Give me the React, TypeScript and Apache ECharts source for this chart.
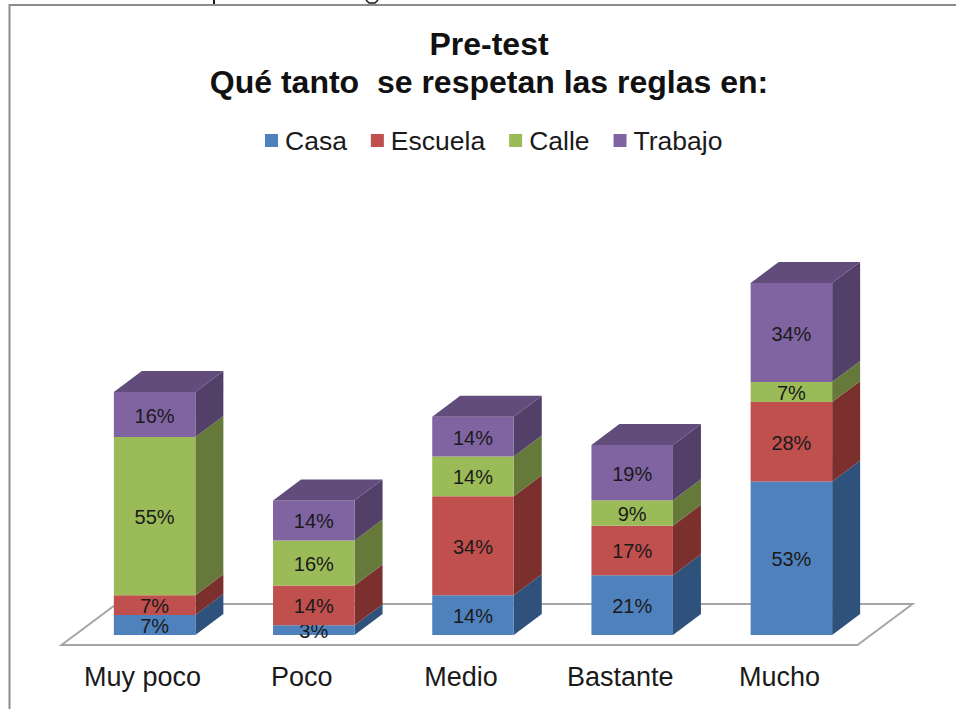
import React, { useEffect, useRef } from "react";
import * as echarts from "echarts";

const categories = ["Muy poco", "Poco", "Medio", "Bastante", "Mucho"];
const casa = [6.9, 3.4, 13.8, 20.7, 53.2];
const escuela = [6.9, 13.8, 34.3, 17.2, 27.6];
const calle = [54.8, 15.6, 13.8, 8.8, 6.9];
const trabajo = [15.6, 13.8, 13.8, 19.2, 34.3];
const seriesNames = ["Casa", "Escuela", "Calle", "Trabajo"];
const seriesValues = [casa, escuela, calle, trabajo];
const frontColors = ["#4F81BD", "#C0504D", "#9BBB59", "#8064A2"];
const sideColors = ["#2F527C", "#7B302E", "#64793A", "#534069"];
const topColors = ["#3A659A", "#9A3E3B", "#7D9848", "#614C7C"];

const FONT = '"Liberation Sans", Arial, sans-serif';
const INK = "#1a1a1a";
const DEPTH_X = 28;
const DEPTH_Y = 21;
const PLANE_X = 12;
const PLANE_Y = 10;
const BAR_RATIO = 0.512;

function barItem(seriesIndex: number, isTop: boolean) {
  return (_params: any, api: any) => {
    const idx = api.value(0);
    const low = api.coord([idx, api.value(1)]);
    const high = api.coord([idx, api.value(2)]);
    const width = api.size([1, 0])[0] * BAR_RATIO;
    const x0 = low[0] - width / 2 + PLANE_X;
    const x1 = x0 + width;
    const y0 = low[1] - PLANE_Y;
    const y1 = high[1] - PLANE_Y;
    const children: any[] = [
      {
        type: "polygon",
        shape: { points: [[x1, y0], [x1 + DEPTH_X, y0 - DEPTH_Y], [x1 + DEPTH_X, y1 - DEPTH_Y], [x1, y1]] },
        style: { fill: sideColors[seriesIndex] },
      },
      {
        type: "rect",
        shape: { x: x0, y: y1, width, height: y0 - y1 },
        style: { fill: frontColors[seriesIndex] },
      },
    ];
    if (isTop) {
      children.push({
        type: "polygon",
        shape: { points: [[x0, y1], [x0 + DEPTH_X, y1 - DEPTH_Y], [x1 + DEPTH_X, y1 - DEPTH_Y], [x1, y1]] },
        style: { fill: topColors[seriesIndex] },
      });
    }
    children.push({
      type: "text",
      z2: 10,
      style: {
        x: (x0 + x1) / 2,
        y: (y0 + y1) / 2 + 1,
        text: `${Math.round(api.value(3))}%`,
        fill: INK,
        font: `20px ${FONT}`,
        align: "center",
        verticalAlign: "middle",
      },
    });
    return { type: "group", children };
  };
}

function floorItem(params: any) {
  const c = params.coordSys;
  const bottom = c.y + c.height;
  const shiftX = -1.5;
  const backX = 55;
  const backY = 41;
  return {
    type: "polygon",
    shape: {
      points: [
        [c.x + shiftX, bottom],
        [c.x + c.width + shiftX, bottom],
        [c.x + c.width + shiftX + backX, bottom - backY],
        [c.x + shiftX + backX, bottom - backY],
      ],
    },
    style: { fill: "#ffffff", stroke: "#a6a6a6", lineWidth: 2 },
  };
}

export default function App() {
  const ref = useRef<HTMLDivElement>(null);
  useEffect(() => {
    const chart = echarts.init(ref.current!, undefined, { renderer: "svg" });
    const barSeries = seriesNames.map((name, s) => ({
      type: "custom",
      name,
      renderItem: barItem(s, s === seriesNames.length - 1),
      itemStyle: { color: frontColors[s] },
      encode: { x: 0, y: [1, 2] },
      z: 3 + s,
      data: categories.map((c, i) => {
        let base = 0;
        for (let k = 0; k < s; k++) base += seriesValues[k][i];
        const v = seriesValues[s][i];
        return [c, base, base + v, v];
      }),
    }));
    chart.setOption({
      animation: false,
      backgroundColor: "#ffffff",
      title: {
        text: "Pre-test\nQué tanto  se respetan las reglas en:",
        left: 484,
        top: 20,
        textAlign: "center",
        textStyle: { fontFamily: FONT, fontSize: 32, fontWeight: "bold", color: "#111111", lineHeight: 38 },
      },
      legend: {
        data: seriesNames,
        left: 260,
        top: 122,
        icon: "rect",
        itemWidth: 13,
        itemHeight: 13,
        itemGap: 24,
        textStyle: { fontFamily: FONT, fontSize: 26.5, color: INK, padding: [0, 0, 0, 2] },
      },
      grid: { left: 63, top: 270, width: 796, height: 375 },
      xAxis: {
        type: "category",
        data: categories,
        axisLine: { show: false },
        axisTick: { show: false },
        axisLabel: { fontFamily: FONT, fontSize: 27, color: INK, margin: 18 },
      },
      yAxis: { type: "value", min: 0, max: 130, show: false },
      graphic: [
        {
          type: "polyline",
          shape: { points: [[9.5, 709], [9.5, 5], [956, 5]] },
          style: { fill: "none", stroke: "#8c8c8c", lineWidth: 2 },
        },
        {
          type: "line",
          shape: { x1: 214, y1: 0, x2: 214, y2: 4 },
          style: { stroke: INK, lineWidth: 2 },
        },
        {
          type: "polyline",
          shape: { points: [[366, 0], [369, 3], [375, 3], [378, 0]] },
          style: { fill: "none", stroke: INK, lineWidth: 1.5 },
        },
      ],
      series: [
        {
          type: "custom",
          name: "floor",
          renderItem: floorItem,
          data: [[0, 0]],
          z: 1,
          silent: true,
        },
        ...barSeries,
      ],
    });
    return () => chart.dispose();
  }, []);
  return (
    <div
      ref={ref}
      style={{ position: "absolute", left: 0, top: 0, width: 956, height: 709 }}
    />
  );
}
